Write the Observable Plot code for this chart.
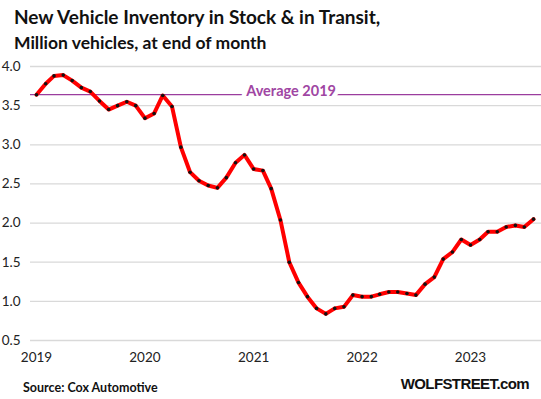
<!DOCTYPE html>
<html><head><meta charset="utf-8">
<script src="https://cdn.jsdelivr.net/npm/d3@7"></script>
<script src="https://cdn.jsdelivr.net/npm/@observablehq/plot@0.6"></script>
<style>
body{margin:0;background:#fff;}
#wrap{width:541px;height:399px;position:relative;overflow:hidden;font-family:Lato,"Open Sans",sans-serif;color:#111;}
#head{height:54px;position:relative;}
#title{position:absolute;left:14px;top:5px;font-weight:bold;font-size:19px;white-space:nowrap;}
#sub{position:absolute;left:14px;top:32px;font-weight:bold;font-size:17.5px;white-space:nowrap;}
#chart{height:317px;}
#foot{height:28px;position:relative;}
#source{position:absolute;left:23px;top:9px;font-weight:bold;font-size:12.5px;white-space:nowrap;}
#brand{position:absolute;right:12px;top:4px;font-family:"Liberation Sans",Arial,sans-serif;font-weight:bold;font-size:15px;letter-spacing:-0.6px;white-space:nowrap;}
</style></head>
<body>
<div id="wrap">
  <div id="head">
    <div id="title">New Vehicle Inventory in Stock &amp; in Transit,</div>
    <div id="sub">Million vehicles, at end of month</div>
  </div>
  <div id="chart"></div>
  <div id="foot">
    <div id="source">Source: Cox Automotive</div>
    <div id="brand">WOLFSTREET.com</div>
  </div>
</div>
<script>
// Monthly values (million vehicles)
const values2019 = [3.64, 3.78, 3.88, 3.89, 3.82, 3.73, 3.68, 3.56, 3.45, 3.50, 3.55, 3.50];
const values2020 = [3.34, 3.40, 3.63, 3.49, 2.97, 2.65, 2.54, 2.48, 2.45, 2.58, 2.77, 2.87];
const values2021 = [2.69, 2.67, 2.44, 2.04, 1.50, 1.24, 1.06, 0.91, 0.84, 0.91, 0.93, 1.08];
const values2022 = [1.06, 1.06, 1.09, 1.12, 1.12, 1.10, 1.08, 1.22, 1.31, 1.54, 1.63, 1.79];
const values2023 = [1.72, 1.79, 1.89, 1.89, 1.95, 1.97, 1.95, 2.05];
const years = [2019, 2020, 2021, 2022, 2023];
const yTicks = [0.5, 1.0, 1.5, 2.0, 2.5, 3.0, 3.5, 4.0];
const avg2019 = 3.64;
const avgLabelText = "Average 2019";
const avgLabelDate = "2021-05-07";

const series = [values2019, values2020, values2021, values2022, values2023];
const data = [];
series.forEach((vals, i) => {
  vals.forEach((v, m) => data.push({date: new Date(Date.UTC(years[i], m, 1)), value: v}));
});
const yearTicks = years.map(y => new Date(Date.UTC(y, 0, 1)));
const avgLabel = [{date: new Date(avgLabelDate), value: avg2019, label: avgLabelText}];

const plot = Plot.plot({
  width: 541,
  height: 317,
  marginTop: 12,
  marginBottom: 31,
  marginLeft: 36,
  marginRight: 8,
  style: {fontFamily: "Lato, 'Open Sans', sans-serif", fontSize: "13.5px", color: "#222", background: "white"},
  x: {type: "utc", domain: [data[0].date, data[data.length - 1].date], ticks: yearTicks, tickFormat: "%Y", tickSize: 0, tickPadding: 12, label: null},
  y: {domain: [0.5, 4.0], ticks: yTicks, tickFormat: d3.format(".1f"), tickSize: 0, tickPadding: 16, label: null},
  marks: [
    Plot.ruleY(yTicks, {stroke: "#d9d9d9", strokeWidth: 1.3, insetLeft: -6, insetRight: -8}),
    Plot.ruleY([avg2019], {stroke: "#9b3d9e", strokeWidth: 1.3, insetLeft: -6, insetRight: -8}),
    Plot.text(avgLabel, {x: "date", y: "value", text: "label", fill: "#a046a3", fontWeight: "bold", fontSize: 14.5, stroke: "white", strokeWidth: 9, dy: -3}),
    Plot.line(data, {x: "date", y: "value", stroke: "#ff0000", strokeWidth: 4, curve: "linear"}),
    Plot.dot(data, {x: "date", y: "value", r: 1.8, fill: "#111", stroke: "none"})
  ]
});
document.getElementById("chart").appendChild(plot);
</script>
</body></html>
